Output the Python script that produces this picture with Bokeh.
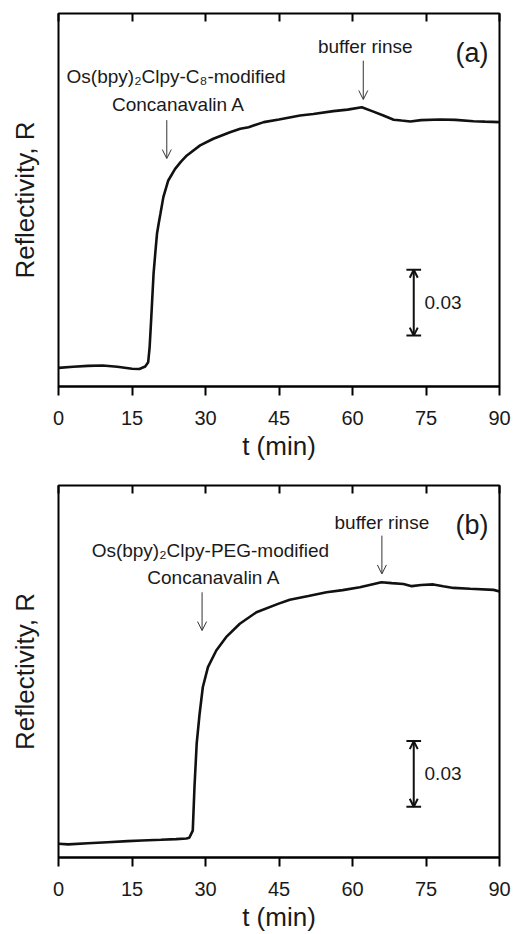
from bokeh.plotting import figure
from bokeh.layouts import column
from bokeh.models import (Range1d, LinearAxis, FixedTicker, Arrow, OpenHead,
                          ColumnDataSource)
from bokeh.core.properties import value
from bokeh.embed import file_html
from bokeh.resources import INLINE

# ---------------- data ----------------
x_ticks = [0, 15, 30, 45, 60, 75, 90]

t_a = [0, 3, 6, 9, 12, 15, 16.5, 17.7, 18.3, 18.6, 18.9, 19.4, 19.8, 20.1, 20.5,
       20.8, 21.4, 22.4, 23.8, 25, 26.2, 28.9, 31.6, 35, 37.1, 38.8, 41.9, 45,
       49.3, 52, 56.1, 59, 61.9, 64, 66.3, 68.4, 70, 71.8, 74, 77.9, 81, 84.7,
       87, 90]
r_a = [0.0085, 0.0090, 0.0094, 0.0096, 0.0090, 0.0081, 0.0080, 0.0091, 0.0110,
       0.0180, 0.0300, 0.0514, 0.0620, 0.0696, 0.0750, 0.0787, 0.0863, 0.0939,
       0.0992, 0.1025, 0.1053, 0.1099, 0.1129, 0.1159, 0.1175, 0.1182, 0.1205,
       0.1217, 0.1235, 0.1242, 0.1255, 0.1262, 0.1273, 0.1255, 0.1235, 0.1216,
       0.1212, 0.1208, 0.1214, 0.1217, 0.1215, 0.1209, 0.1207, 0.1205]

t_b = [0, 2, 6, 10, 14.1, 17, 20.9, 24, 26.1, 26.7, 27.4, 27.75, 28.2, 28.8,
       29.45, 30.5, 32.2, 34.2, 37.0, 40.4, 44.8, 47.2, 51, 54.7, 58, 61.5,
       65.9, 68, 70.4, 72.1, 74, 76.5, 78.5, 80.6, 84, 88.8, 90]
r_b = [0.0063, 0.0060, 0.0065, 0.0070, 0.0075, 0.0078, 0.0081, 0.0084, 0.0087,
       0.0090, 0.0123, 0.0321, 0.0520, 0.0657, 0.0778, 0.0870, 0.0946, 0.1007,
       0.1068, 0.1121, 0.1159, 0.1178, 0.1195, 0.1212, 0.1222, 0.1235, 0.1258,
       0.1254, 0.1250, 0.1240, 0.1245, 0.1248, 0.1240, 0.1232, 0.1228, 0.1223,
       0.1216]

# annotation texts / anchors
label_a_lines = ["Os(bpy)\u2082Clpy-C\u2088-modified", "Concanavalin A"]
label_a_x = [24.0, 24.5]
label_a_y = [0.1411, 0.1287]
label_b_lines = ["Os(bpy)\u2082Clpy-PEG-modified", "Concanavalin A"]
label_b_x = [31.0, 31.7]
label_b_y = [0.1402, 0.1278]

rinse_a = dict(x=62.6, y=0.1548)
rinse_b = dict(x=66.0, y=0.1529)
arrow_add_a = dict(x=22.1, y0=0.1214, y1=0.1039)
arrow_add_b = dict(x=29.3, y0=0.1212, y1=0.1037)
arrow_rinse_a = dict(x=62.2, y0=0.1485, y1=0.1308)
arrow_rinse_b = dict(x=66.0, y0=0.1471, y1=0.1296)
panel_tag = ["(a)", "(b)"]
tag_x, tag_y = 84.4, 0.1520
scale_x = 72.5
scale_y0 = 0.0232
scale_dR = 0.03
scale_label = "0.03"

FONT = "Liberation Sans"


def make_panel(t, r, lines, lx, ly, rinse, arr_add, arr_rinse, tag, fh, top, bottom):
    p = figure(frame_width=441, frame_height=fh, output_backend="svg",
               toolbar_location=None,
               x_range=Range1d(0, 90), y_range=Range1d(0, 0.17),
               x_axis_type=None, y_axis_type=None,
               min_border_left=58, min_border_right=14,
               min_border_top=top, min_border_bottom=bottom)
    p.grid.visible = False
    p.outline_line_color = "black"
    p.outline_line_width = 2
    p.background_fill_color = "white"
    p.border_fill_color = "white"

    # bottom axis
    xb = LinearAxis(ticker=FixedTicker(ticks=x_ticks))
    xb.axis_label = "t (min)"
    xb.axis_label_text_font = FONT
    xb.axis_label_text_font_size = "26px"
    xb.axis_label_text_font_style = "normal"
    xb.axis_label_text_color = "#1a1a1a"
    xb.axis_label_text_line_height = 1.0
    xb.axis_label_standoff = 3
    xb.major_label_text_font = FONT
    xb.major_label_text_font_size = "20px"
    xb.major_label_text_color = "#1a1a1a"
    xb.major_label_text_line_height = 1.0
    xb.major_label_standoff = 15
    xb.major_tick_in = 0
    xb.major_tick_out = 9
    xb.major_tick_line_width = 2
    xb.minor_tick_line_color = None
    xb.axis_line_width = 2
    p.add_layout(xb, "below")

    # top axis: inward ticks only
    xt = LinearAxis(ticker=FixedTicker(ticks=x_ticks))
    xt.major_tick_in = 8
    xt.major_tick_out = 0
    xt.major_tick_line_width = 2
    xt.minor_tick_line_color = None
    xt.axis_line_color = None
    xt.major_label_text_font_size = "0px"
    xt.major_label_standoff = 0
    p.add_layout(xt, "above")

    # left axis: label only
    yl = LinearAxis(ticker=FixedTicker(ticks=[]))
    yl.axis_label = "Reflectivity, R"
    yl.axis_label_text_font = FONT
    yl.axis_label_text_font_size = "26px"
    yl.axis_label_text_font_style = "normal"
    yl.axis_label_text_color = "#1a1a1a"
    yl.axis_label_standoff = 19
    yl.axis_line_color = None
    yl.major_tick_line_color = None
    yl.minor_tick_line_color = None
    yl.major_label_text_font_size = "0px"
    yl.major_label_standoff = 0
    p.add_layout(yl, "left")

    # curve
    p.line(t, r, line_color="#111111", line_width=2.6)

    # annotation texts
    src = ColumnDataSource(dict(x=lx + [rinse["x"]], y=ly + [rinse["y"]],
                                txt=lines + ["buffer rinse"]))
    p.text(x="x", y="y", text="txt", source=src, text_font=value(FONT),
           text_font_size="19px", text_align="center", text_baseline="middle",
           text_color="#1a1a1a")
    p.text(x=[tag_x], y=[tag_y], text=[tag], text_font=value(FONT),
           text_font_size="27px", text_align="center", text_baseline="middle",
           text_color="#1a1a1a")

    # thin arrows
    for a in (arr_add, arr_rinse):
        p.add_layout(Arrow(x_start=a["x"], y_start=a["y0"], x_end=a["x"], y_end=a["y1"],
                           line_width=1, line_color="#333333",
                           end=OpenHead(size=9, line_width=1, line_color="#333333")))

    # scale bar
    y1 = scale_y0 + scale_dR
    p.add_layout(Arrow(x_start=scale_x, y_start=scale_y0, x_end=scale_x, y_end=y1,
                       line_width=2, line_color="#111111",
                       start=OpenHead(size=8, line_width=2, line_color="#111111"),
                       end=OpenHead(size=8, line_width=2, line_color="#111111")))
    p.segment(x0=[scale_x - 1.5, scale_x - 1.5], y0=[scale_y0, y1],
              x1=[scale_x + 1.5, scale_x + 1.5], y1=[scale_y0, y1],
              line_color="#111111", line_width=2)
    p.text(x=[scale_x + 2.2], y=[scale_y0 + scale_dR / 2], text=[scale_label],
           text_font=value(FONT), text_font_size="19px", text_align="left",
           text_baseline="middle", text_color="#1a1a1a")
    return p


pa = make_panel(t_a, r_a, label_a_lines, label_a_x, label_a_y, rinse_a,
                arrow_add_a, arrow_rinse_a, panel_tag[0], 373, 13, 84)
pb = make_panel(t_b, r_b, label_b_lines, label_b_x, label_b_y, rinse_b,
                arrow_add_b, arrow_rinse_b, panel_tag[1], 372, 15, 77)

layout = column(pa, pb, spacing=0)
open("out.html", "w").write(file_html(layout, INLINE))
